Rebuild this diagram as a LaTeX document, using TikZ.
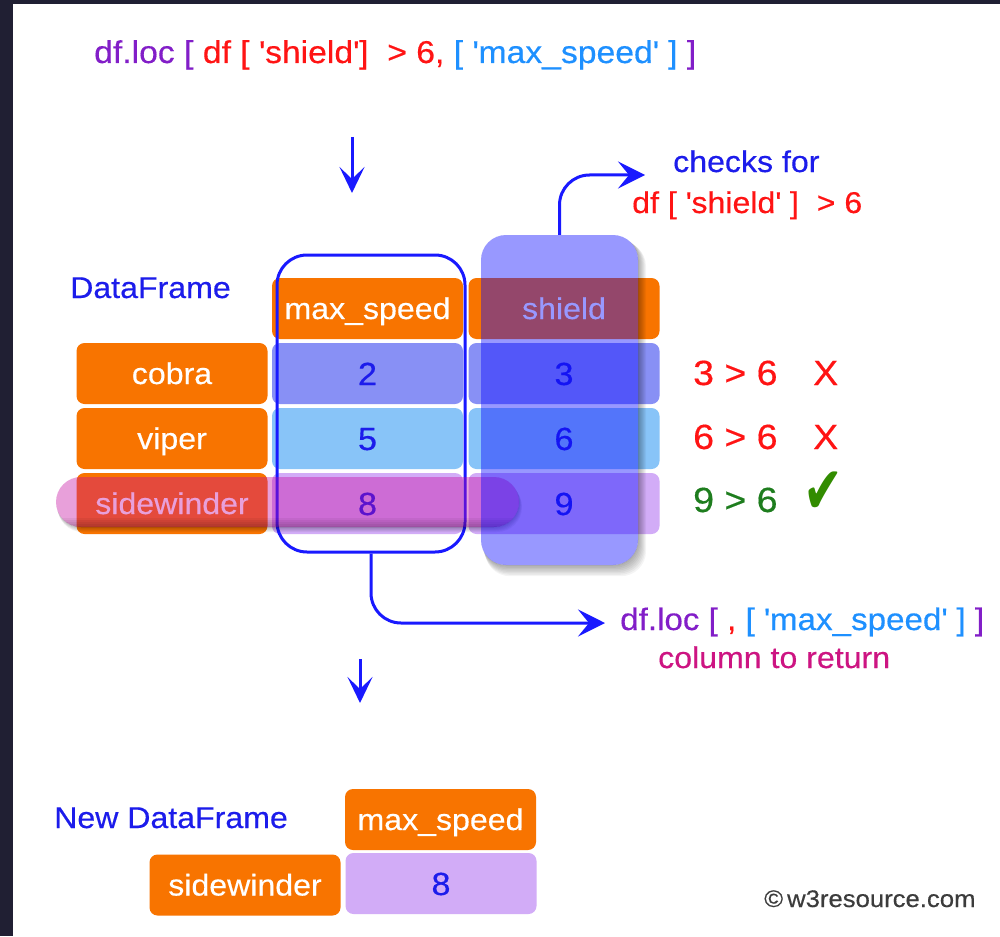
\documentclass[tikz,border=0pt]{standalone}
\usepackage{fontspec}
\setmainfont{Liberation Sans}[FakeStretch=1.07,FakeBold=0.4]
\newfontfamily\symfont{DejaVu Sans}
\usetikzlibrary{arrows.meta}
\newcommand\myq{\textquotesingle}
\definecolor{framec}{HTML}{201F33}
\definecolor{org}{RGB}{248,116,0}
\definecolor{cellA}{RGB}{136,144,245}
\definecolor{cellB}{RGB}{136,196,248}
\definecolor{cellC}{RGB}{210,172,247}
\definecolor{tblue}{RGB}{28,28,235}
\definecolor{abl}{RGB}{25,25,255}
\definecolor{tpurple}{RGB}{130,30,200}
\definecolor{tred}{RGB}{255,20,20}
\definecolor{tsky}{RGB}{30,144,255}
\definecolor{tgreen}{RGB}{30,125,30}
\definecolor{tmag}{RGB}{205,20,130}
\definecolor{hlblue}{RGB}{10,10,255}
\definecolor{pillc}{RGB}{197,6,158}
\definecolor{ckgreen}{RGB}{50,140,0}
\definecolor{copyc}{RGB}{60,60,60}
\begin{document}
\begin{tikzpicture}[x=1pt,y=-1pt,
  f30/.style={font=\fontsize{30}{36}\selectfont},
  f35/.style={font=\fontsize{35}{42}\selectfont},
  box/.style={rounded corners=8, inner sep=0, minimum width=191, minimum height=61,
    text height=21, text depth=0, f30},
  hdr/.style={box, fill=org, text=white},
  cell/.style={box, text=tblue, font=\fontsize{32}{38}\selectfont, text height=23},
  lbl/.style={f30, anchor=base west, inner sep=0},
  conn/.style={draw=abl, line width=3, rounded corners=30},
  tipbig/.style={-{Stealth[length=27pt,width=27pt,inset=11pt]}},
  tipsmall/.style={-{Stealth[length=26pt,width=25pt,inset=12pt]}}
]
% frame and canvas
\fill[framec] (0,0) rectangle (1000,936);
\fill[white] (13,4) rectangle (1000,936);
\useasboundingbox (0,0) rectangle (1000,936);

% title
\node[lbl, font=\fontsize{31.5}{37}\selectfont] (title) at (94,63)
  {\textcolor{tpurple}{df.loc [} \textcolor{tred}{df [ \myq shield\myq]\ \ > 6,} \textcolor{tsky}{[ \myq max\_speed\myq\ ]} \textcolor{tpurple}{]}};

% top arrow
\coordinate (d1s) at (352,137);
\coordinate (d1e) at (352,193);
\draw[draw=abl, line width=3, tipsmall] (d1s) -- (d1e);

% checks for
\node[lbl, text=tblue] (checks) at (673,172) {checks for};
\node[lbl, text=tred] (cond) at (632,213) {df [ \myq shield\myq\ ]\ \ > 6};

% DataFrame label
\node[lbl, text=tblue] (dflabel) at (70,298) {DataFrame};

% table
\node[hdr] (hms) at (367.5,308.5) {max\_speed};
\node[hdr] (hsh) at (564,308.5) {shield};
\node[hdr] (icobra) at (172,373.5) {cobra};
\node[hdr] (iviper) at (172,438.5) {viper};
\node[hdr] (iside) at (172,503.5) {sidewinder};
\node[cell, fill=cellA] (c11) at (367.5,373.5) {2};
\node[cell, fill=cellA] (c12) at (564,373.5) {3};
\node[cell, fill=cellB] (c21) at (367.5,438.5) {5};
\node[cell, fill=cellB] (c22) at (564,438.5) {6};
\node[cell, fill=cellC] (c31) at (367.5,503.5) {8};
\node[cell, fill=cellC] (c32) at (564,503.5) {9};

% max_speed outline
\node[draw=abl, line width=3, rounded corners=30, inner sep=0,
  minimum width=188, minimum height=297] (msout) at (371,403.5) {};

% pill shadow
\begin{scope}
  \clip (0,0)--(1000,0)--(1000,936)--(0,936)--cycle
    [rounded corners=25] (56,477)--(56,527)--(519,527)--(519,477)--cycle;
  \foreach \d in {1,...,5}
    \fill[black, opacity=.05, rounded corners=25] (56+0.3*\d,477+\d) rectangle (519+0.6*\d,527+\d);
\end{scope}
% pill
\node[fill=pillc, fill opacity=.38, rounded corners=25, inner sep=0,
  minimum width=463, minimum height=50] (pill) at (287.5,502) {};
\begin{scope}
  \clip[rounded corners=25] (56,477) rectangle (519,527);
  \foreach \d in {0,...,4}
    \fill[black, opacity=.05] (40,518+2*\d) rectangle (530,530);
\end{scope}

% shield highlight shadow
\begin{scope}
  \clip (0,0)--(1000,0)--(1000,936)--(0,936)--cycle
    [rounded corners=25] (481,235)--(481,565)--(638,565)--(638,235)--cycle;
  \foreach \d in {1,...,8}
    \fill[black, opacity=.045, rounded corners=25] (481+0.5*\d,235+0.8*\d) rectangle (638+\d,565+1.4*\d);
\end{scope}
% shield highlight
\node[fill=hlblue, fill opacity=.42, rounded corners=25, inner sep=0,
  minimum width=157, minimum height=330] (shhl) at (559.5,400) {};

% connector to "checks for"
\coordinate (tip1) at (645,175);
\draw[conn, tipbig] (shhl.north) |- (tip1);

% annotations
\node[lbl, f35, text=tred] (r1) at (693,385) {3 > 6};
\node[lbl, f35, text=tred] (x1) at (813,385) {X};
\node[lbl, f35, text=tred] (r2) at (693,449) {6 > 6};
\node[lbl, f35, text=tred] (x2) at (813,449) {X};
\node[lbl, f35, text=tgreen] (r3) at (693,512) {9 > 6};
\node[inner sep=0, xscale=.72, text=ckgreen, font=\symfont\fontsize{66}{70}\selectfont] (ck) at (823,493) {✔};

% connector to column to return
\coordinate (tip2) at (605,623);
\draw[conn, tipbig] (msout.south) |- (tip2);
\node[lbl, font=\fontsize{31}{37}\selectfont] (dfloc2) at (620,630)
  {\textcolor{tpurple}{df.loc [} \textcolor{tred}{,} \textcolor{tsky}{[ \myq max\_speed\myq\ ]} \textcolor{tpurple}{]}};
\node[lbl, text=tmag] (colret) at (658,668) {column to return};

% second down arrow
\coordinate (d2s) at (360,659);
\coordinate (d2e) at (360,703);
\draw[draw=abl, line width=3, tipsmall] (d2s) -- (d2e);

% new dataframe
\node[lbl, text=tblue] (newlabel) at (54,828) {New DataFrame};
\node[hdr] (bhms) at (440.5,819.5) {max\_speed};
\node[hdr] (bside) at (245,885) {sidewinder};
\node[cell, fill=cellC] (b8) at (441,883.5) {8};

% copyright
\node[lbl, text=copyc, font=\fontsize{24}{28}\selectfont] (copy) at (764,907) {©\,w3resource.com};
\end{tikzpicture}
\end{document}
